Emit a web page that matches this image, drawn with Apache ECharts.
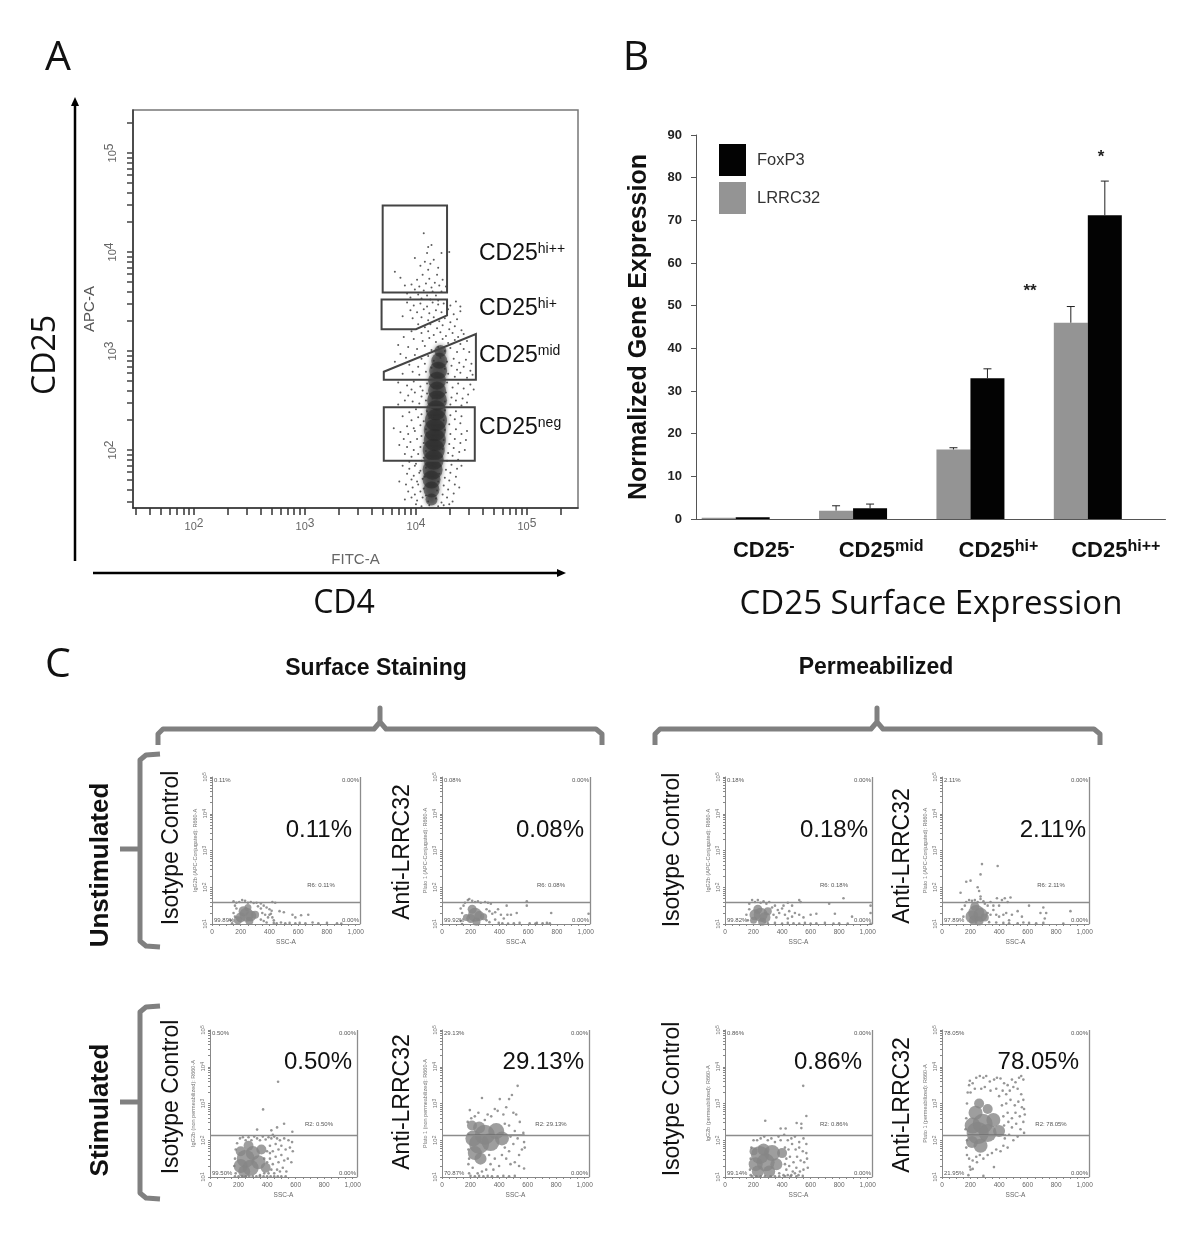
<!DOCTYPE html>
<html><head><meta charset="utf-8">
<style>html,body{margin:0;background:#fff}#c{width:1200px;height:1234px}</style>
<script src="https://cdn.jsdelivr.net/npm/echarts@6/dist/echarts.min.js"></script>
</head><body><div id="c"></div>
<script>
// ---------- Panel B values ----------
const categories=['CD25-','CD25mid','CD25hi+','CD25hi++'];
const lrrc32=[0.3,1.95,16.3,46];
const foxp3=[0.4,2.5,33,71.2];
const lrrc32Top=[null,3.1,16.7,49.8];
const foxp3Top=[null,3.5,35.2,79.2];
// ---------- Panel A: gates and events, in hundredths of a decade (x,y flat) ----------
const gateHiPP=[370,447,428,447,428,359,370,359];
const gateHiP=[369,352,428,352,428,336,400,322,369,322];
const gateMid=[371,279,454,317,454,271,371,271];
const gateNeg=[371,243,453,243,453,189,371,189];
const aCore=[422,300,12,421,290,16,420,280,18,419,270,18,419,260,18,419,250,20,418,240,20,418,230,22,417,220,22,417,210,22,416,200,22,416,190,20,415,180,20,414,170,18,414,160,16,414,150,12];
const aEvents=[407,419,414,407,411,405,423,399,410,399,399,394,381,380,386,374,416,392,408,390,404,386,413,388,420,384,411,382,419,377,406,377,401,372,412,373,424,372,417,369,409,368,396,367,390,366,403,365,414,364,421,366,427,365,399,362,407,361,415,360,423,360,392,358,402,357,410,356,418,356,395,354,405,353,413,352,420,351,430,400,
392,349,398,346,404,348,410,345,415,349,420,347,425,348,431,346,436,350,440,345,395,341,401,339,407,342,412,338,418,341,423,339,429,342,434,337,440,340,388,335,397,333,405,334,411,331,416,334,421,330,426,333,431,329,437,332,
402,327,408,324,413,327,419,323,424,326,430,322,435,325,441,321,396,320,405,318,411,320,416,316,422,319,427,315,433,318,438,314,443,317,389,314,398,312,406,310,412,313,418,309,424,312,429,308,435,311,440,307,446,310,384,306,393,304,401,302,408,305,414,301,420,304,426,300,431,303,437,299,443,302,448,299,
386,297,391,293,399,296,405,292,411,295,416,290,422,293,428,289,434,292,439,288,445,291,450,287,381,289,394,286,402,284,408,287,414,283,420,286,426,282,432,285,437,281,443,284,449,280,397,279,403,276,409,279,414,275,429,277,435,274,440,278,446,273,451,276,388,277,
384,268,392,265,398,269,404,264,410,267,416,263,428,268,433,263,438,267,443,262,449,266,452,261,396,261,406,260,
386,258,393,255,399,258,405,254,410,257,415,252,427,258,432,253,437,257,442,252,447,256,390,250,397,249,403,247,409,250,414,246,426,249,431,246,436,250,441,245,446,248,384,246,
394,238,400,241,405,236,410,239,415,234,426,240,431,235,436,239,441,234,388,234,396,230,402,233,407,229,412,232,425,230,430,226,435,231,440,227,392,224,398,222,404,225,409,221,
380,222,386,218,393,216,399,219,405,214,410,217,426,220,431,216,436,221,441,216,446,219,389,211,395,208,401,211,407,207,425,210,430,206,435,211,440,207,445,210,385,205,392,203,398,200,404,203,409,199,
424,201,429,197,434,202,439,198,444,200,390,196,396,193,402,196,407,192,423,193,428,189,433,194,438,190,394,188,400,186,405,189,410,185,
388,184,394,181,399,184,404,179,409,182,422,184,427,180,432,185,437,181,441,184,392,176,398,174,403,177,408,173,421,176,426,172,431,177,436,173,396,170,401,168,406,171,
385,168,391,165,397,162,402,165,407,161,420,168,425,164,430,169,435,165,439,162,393,158,399,155,404,158,409,154,419,159,424,155,429,160,434,156,
396,152,401,149,406,152,411,148,418,151,423,147,428,152,433,148,390,150,400,145,405,143,412,144,420,143,425,144,430,145,];
// ---------- Panel C events: SSC, hundredths of a decade (x,y flat); cores: x,y,size ----------
const c1Core=[200,118,10,240,125,14,270,122,11,220,135,10,300,125,8,180,110,8,260,108,8,250,145,7];
const c1=[150,162,170,158,190,160,210,165,230,163,250,158,270,160,290,157,310,158,340,156,420,160,440,158,160,150,170,142,150,130,130,110,140,102,160,120,320,148,340,142,360,150,380,145,400,140,410,128,420,118,430,110,350,130,370,125,390,118,340,112,360,108,380,104,400,125,415,136,470,135,500,132,560,125,580,118,620,124,670,125,430,103,450,102,480,104,510,102,540,103,580,102,610,103,650,102,700,104,740,102,800,103,870,102,900,101];
const c2Core=[200,115,9,230,125,14,260,122,10,210,140,9,170,118,7,290,120,7,240,106,8];
const c2=[130,142,140,130,150,150,160,158,180,165,190,168,210,163,230,160,250,162,270,158,300,160,320,158,340,155,310,140,330,135,350,128,370,132,390,140,410,125,430,115,450,150,455,125,480,125,520,130,590,162,590,150,760,130,130,108,140,100,310,110,330,105,370,112,395,103,420,102,460,101,500,102,540,103,610,102,650,101,660,103,700,102,730,103,750,102,1020,128];
const c3Core=[210,125,11,250,125,14,280,118,11,230,140,9,200,110,7,300,135,8,260,106,8];
const c3=[170,155,190,165,210,160,230,165,250,158,270,162,290,155,310,160,150,125,160,110,170,140,330,145,350,150,370,138,340,125,360,118,380,130,400,142,420,125,440,115,410,150,440,158,470,150,520,165,530,160,450,135,470,120,490,130,520,125,550,118,600,125,640,128,730,155,770,128,830,170,890,120,1020,150,1020,130,
300,102,350,103,400,101,440,103,480,102,520,101,560,103,600,101,640,102,700,103,760,101,800,102,860,101,1020,101];
const c4Core=[210,120,13,240,130,16,270,125,14,220,110,9,260,108,9,230,148,9,300,118,8];
const c4=[140,140,130,185,150,120,160,150,170,160,170,215,190,165,200,218,210,163,230,165,250,160,270,168,290,162,250,200,260,190,270,235,280,263,390,258,270,175,300,155,320,150,340,160,360,150,385,170,320,130,340,125,360,138,380,125,400,150,420,165,440,170,460,160,480,172,400,120,430,125,450,130,470,110,490,125,530,135,560,120,610,150,690,130,710,145,720,115,730,130,900,135,
330,105,380,104,430,103,470,102,530,102,570,104,610,103,660,102,710,103,850,101];
const c5Core=[215,130,14,250,150,18,285,125,16,240,115,12,300,165,14,340,140,14,215,170,10,360,175,10,390,125,10,270,185,10];
const c5=[170,130,175,150,180,175,180,110,190,192,210,205,230,208,250,200,270,208,290,200,310,210,330,205,350,200,370,210,390,202,410,208,430,205,450,210,470,205,490,200,520,205,550,200,575,195,400,170,420,185,440,170,460,190,480,175,500,185,530,175,560,180,580,170,420,150,440,135,460,155,480,140,500,160,520,145,545,150,570,140,410,110,430,120,450,110,470,120,490,115,510,125,535,115,420,165,380,150,400,140,350,105,380,110,
477,359,372,284,330,229,430,227,470,235,519,245,577,223,440,215,
175,102,200,102,225,102,250,102,275,102,300,102,325,102,350,102,375,102,400,102,425,102,450,102,475,102,500,102,530,102];
const c6Core=[220,205,16,260,190,20,300,215,20,340,195,18,230,165,14,270,150,12,210,240,10,380,225,16,260,235,12,420,205,14];
const c6=[180,250,185,215,185,175,185,135,190,110,195,282,205,260,230,265,255,275,280,315,300,255,320,270,345,265,370,285,390,280,405,312,430,270,450,290,470,312,490,323,500,275,530,348,520,270,545,250,570,220,575,195,580,180,560,175,540,160,470,240,440,245,480,210,510,225,440,180,470,170,500,190,530,205,540,130,510,140,480,135,450,150,420,160,400,130,370,150,340,135,310,120,280,115,250,110,215,125,190,150,330,160,360,120,
200,103,230,102,260,103,290,102,320,103,350,102,390,102,430,103,470,102,510,103,575,123,];
const c7Core=[215,135,14,245,160,18,285,140,18,230,115,12,270,175,12,330,165,16,310,115,12,200,170,8,360,135,12,400,165,10];
const c7=[175,120,180,150,180,105,185,180,200,200,225,200,250,205,275,210,300,200,325,205,350,195,375,210,390,200,415,215,425,232,440,200,465,205,490,210,520,195,550,205,570,190,548,348,570,266,282,253,502,247,535,245,535,233,390,232,
420,180,445,175,470,190,495,175,520,180,545,170,570,165,430,150,455,155,480,140,505,155,530,145,555,140,575,150,430,120,450,130,475,115,500,125,525,115,550,120,580,125,410,105,440,105,465,105,490,110,515,105,545,103,420,135,380,110,
190,102,220,102,250,102,280,102,320,102,350,102,380,102,420,102,460,102,500,102];
const c8Core=[215,240,16,250,220,22,285,245,20,235,275,14,320,220,18,210,195,12,270,185,14,360,255,14,320,285,10,260,300,10,400,225,12];
const c8=[165,230,170,260,175,200,170,180,175,300,180,330,190,350,195,362,215,355,240,370,265,375,290,370,310,375,335,360,365,365,385,370,410,368,435,355,460,350,490,365,515,358,540,370,555,375,570,365,
200,330,230,340,275,340,300,345,340,335,380,340,400,320,425,335,450,325,475,335,500,345,530,340,555,325,570,310,575,285,
420,295,450,300,480,310,510,295,535,305,560,290,580,270,430,265,460,275,490,260,515,275,545,265,570,250,435,240,465,250,490,235,520,245,550,230,575,220,440,205,470,215,500,200,530,210,430,185,460,180,410,170,380,175,350,165,320,160,290,150,
175,160,190,150,215,145,240,155,265,160,195,128,215,122,245,140,364,127,185,105,290,103,200,120,];
// small-panel texts
const quadrants=[['0.11%','0.00%','R6: 0.11%','99.89%','0.00%'],['0.08%','0.00%','R6: 0.08%','99.92%','0.00%'],['0.18%','0.00%','R6: 0.18%','99.82%','0.00%'],['2.11%','0.00%','R6: 2.11%','97.89%','0.00%'],['0.50%','0.00%','R2: 0.50%','99.50%','0.00%'],['29.13%','0.00%','R2: 29.13%','70.87%','0.00%'],['0.86%','0.00%','R2: 0.86%','99.14%','0.00%'],['78.05%','0.00%','R2: 78.05%','21.95%','0.00%']];
const yNames=['IgG2b (APC-Conjugated): R660-A','Plato 1 (APC-Conjugated): R660-A','IgG2b (APC-Conjugated): R660-A','Plato 1 (APC-Conjugated): R660-A','IgG2b (non permeabilized): R660-A','Plato 1 (non permeabilized): R660-A','IgG2b (permeabilized): R660-A','Plato 1 (permeabilized): R660-A'];
const bigPct=['0.11%','0.08%','0.18%','2.11%','0.50%','29.13%','0.86%','78.05%'];
const rowNames=['Isotype Control','Anti-LRRC32'];
// ---------- layout (not data) ----------
const SANS='"Liberation Sans",Arial,sans-serif',OPEN='"Open Sans",sans-serif';
const panels=[
{d:c1,k:c1Core,x0:212,x1:360,top:777,bot:924,gate:160,px:352,py:830,nx:172,ny:848,n:0},
{d:c2,k:c2Core,x0:442,x1:590,top:777,bot:924,gate:160,px:584,py:830,nx:403,ny:852,n:1},
{d:c3,k:c3Core,x0:725,x1:872,top:777,bot:924,gate:160,px:868,py:830,nx:673,ny:850,n:0},
{d:c4,k:c4Core,x0:942,x1:1089,top:777,bot:924,gate:160,px:1086,py:830,nx:903,ny:856,n:1},
{d:c5,k:c5Core,x0:210,x1:357,top:1030,bot:1177,gate:214,px:352,py:1062,nx:172,ny:1097,n:0},
{d:c6,k:c6Core,x0:442,x1:589,top:1030,bot:1177,gate:214,px:584,py:1062,nx:403,ny:1102,n:1,dark:[180,580]},
{d:c7,k:c7Core,x0:725,x1:872,top:1030,bot:1177,gate:214,px:862,py:1062,nx:673,ny:1099,n:0},
{d:c8,k:c8Core,x0:942,x1:1089,top:1030,bot:1177,gate:214,px:1079,py:1062,nx:903,ny:1105,n:1,dark:[180,450]}];
const pairs=a=>{const r=[];for(let i=0;i+1<a.length;i+=2)r.push([a[i],a[i+1]]);return r};
const triples=a=>{const r=[];for(let i=0;i+2<a.length;i+=3)r.push([a[i],a[i+1],a[i+2]]);return r};
const dec=v=>Math.pow(10,v/100);
function logTicks(lo,hi){const t=[];for(let d=1;d<=5;d++)for(let m=1;m<=9;m++){const v=m*Math.pow(10,d);if(v>=lo&&v<=hi)t.push(v)}return t}
const powLabel=v=>{const e=Math.round(Math.log10(v));return '10{s|'+e+'}'};

const grid=[],xAxis=[],yAxis=[],series=[];
// Panel A
grid.push({left:133,top:110,width:445,height:398,show:true,borderColor:'#777',borderWidth:1.5});
xAxis.push({gridIndex:0,type:'log',min:28.2,max:288400,axisLine:{show:true,lineStyle:{color:'#333',width:1.5}},
 axisTick:{show:true,length:7,inside:false,customValues:logTicks(30,288000),lineStyle:{color:'#333',width:1.5}},splitLine:{show:false},minorTick:{show:false},
 axisLabel:{customValues:[100,1000,10000,100000],margin:10,color:'#666',fontFamily:SANS,fontSize:11,formatter:powLabel,rich:{s:{fontSize:12,color:'#666',verticalAlign:'top',fontFamily:SANS,padding:[0,0,6,0]}}},
 name:'FITC-A',nameLocation:'middle',nameGap:44,nameTextStyle:{color:'#666',fontSize:15,fontFamily:SANS}});
yAxis.push({gridIndex:0,type:'log',min:25.9,max:271600,axisLine:{show:true,lineStyle:{color:'#333',width:1.5}},
 axisTick:{show:true,length:6,customValues:logTicks(30,271000),lineStyle:{color:'#444',width:1.5}},splitLine:{show:false},minorTick:{show:false},
 axisLabel:{customValues:[100,1000,10000,100000],rotate:90,margin:11,color:'#666',fontFamily:SANS,fontSize:11,formatter:powLabel,rich:{s:{fontSize:12,color:'#666',verticalAlign:'top',fontFamily:SANS,padding:[0,0,6,0]}}},
 name:'APC-A',nameLocation:'middle',nameGap:36,nameTextStyle:{color:'#555',fontSize:15,fontFamily:SANS}});
series.push({type:'scatter',name:'coreA',xAxisIndex:0,yAxisIndex:0,silent:true,data:triples(aCore).map(p=>[dec(p[0]),dec(p[1]),p[2]]),symbolSize:v=>v[2],itemStyle:{color:'#2a2a2a',opacity:.55,shadowBlur:4,shadowColor:'#2a2a2a'}});
series.push({type:'scatter',name:'events',xAxisIndex:0,yAxisIndex:0,silent:true,data:pairs(aEvents).map(p=>[dec(p[0]),dec(p[1])]),symbolSize:2,itemStyle:{color:'#333'}});
const gates=[gateHiPP,gateHiP,gateMid,gateNeg];
series.push({type:'custom',name:'gates',xAxisIndex:0,yAxisIndex:0,silent:true,z:5,clip:false,
 data:gates.map((g,i)=>[dec(g[0]),dec(g[1]),i]),
 renderItem:(p,api)=>({type:'polygon',shape:{points:pairs(gates[api.value(2)]).map(q=>api.coord([dec(q[0]),dec(q[1])]))},style:{fill:'none',stroke:'#444',lineWidth:2}})});
// Panel B: visible axes (grid 1), bars on a shifted hidden axis (grid 2)
const catRich={b:{fontSize:22,fontWeight:'bold',color:'#111',fontFamily:SANS},s:{fontSize:16,fontWeight:'bold',color:'#111',fontFamily:SANS,verticalAlign:'top',padding:[0,0,8,0]}};
grid.push({left:696,top:135,width:469.5,height:384});
xAxis.push({gridIndex:1,type:'category',data:categories,axisLine:{lineStyle:{color:'#555',width:1}},axisTick:{length:6,lineStyle:{color:'#555'}},
 axisLabel:{interval:0,margin:20,padding:[0,0,0,18],formatter:v=>'{b|CD25}{s|'+v.slice(4)+'}',rich:catRich}});
yAxis.push({gridIndex:1,type:'value',min:0,max:90,interval:10,splitLine:{show:false},axisLine:{show:true,lineStyle:{color:'#555'}},axisTick:{show:true,length:5,lineStyle:{color:'#555'}},
 axisLabel:{margin:14,color:'#222',fontSize:13,fontWeight:'bold',fontFamily:SANS,padding:[0,0,9,0]},
 name:'Normalized Gene Expression',nameLocation:'middle',nameGap:44,nameTextStyle:{fontSize:25,fontWeight:'bold',color:'#111',fontFamily:SANS}});
grid.push({left:677,top:135,width:469.5,height:384});
xAxis.push({gridIndex:2,type:'category',data:categories,show:false});
yAxis.push({gridIndex:2,type:'value',min:0,max:90,show:false,splitLine:{show:false}});
series.push({type:'bar',name:'LRRC32',xAxisIndex:2,yAxisIndex:2,data:lrrc32,barWidth:34,barGap:0,itemStyle:{color:'#949494'},silent:true});
series.push({type:'bar',name:'FoxP3',xAxisIndex:2,yAxisIndex:2,data:foxp3,barWidth:34,barGap:0,itemStyle:{color:'#030303'},silent:true});
const errData=[];lrrc32Top.forEach((t,i)=>{if(t!=null)errData.push([i,lrrc32[i],t,-1])});foxp3Top.forEach((t,i)=>{if(t!=null)errData.push([i,foxp3[i],t,1])});
series.push({type:'custom',name:'err',xAxisIndex:2,yAxisIndex:2,silent:true,z:4,data:errData,renderItem:(p,api)=>{
 const a=api.coord([api.value(0),api.value(1)]),b=api.coord([api.value(0),api.value(2)]),x=a[0]+api.value(3)*17;
 const st={stroke:'#222',lineWidth:1};
 return {type:'group',children:[{type:'line',shape:{x1:x,y1:a[1],x2:x,y2:b[1]},style:st},{type:'line',shape:{x1:x-4,y1:b[1],x2:x+4,y2:b[1]},style:st}]}}});
// Panel C
const smallRich={s:{fontSize:5,color:'#777',verticalAlign:'top',fontFamily:SANS}};
panels.forEach((P,i)=>{const g=3+i;
 grid.push({left:P.x0,top:P.top,width:P.x1-P.x0,height:P.bot-P.top});
 const ticks=[];for(let t=0;t<=1000;t+=50)ticks.push(t);
 xAxis.push({gridIndex:g,type:'value',min:0,max:1030,splitLine:{show:false},axisLine:{lineStyle:{color:'#888'}},axisTick:{length:2,customValues:ticks,lineStyle:{color:'#888'}},
  axisLabel:{customValues:[0,200,400,600,800,1000],fontSize:6.5,margin:5,color:'#666',fontFamily:SANS},name:'SSC-A',nameLocation:'middle',nameGap:15,nameTextStyle:{fontSize:6.5,color:'#666',fontFamily:SANS}});
 yAxis.push({gridIndex:g,type:'log',min:10,max:100000,splitLine:{show:false},minorTick:{show:false},axisLine:{show:true,lineStyle:{color:'#888'}},axisTick:{show:true,length:2,customValues:logTicks(10,100000),lineStyle:{color:'#888'}},
  axisLabel:{customValues:[10,100,1000,10000,100000],rotate:90,fontSize:6,margin:4,color:'#777',fontFamily:SANS,formatter:powLabel,rich:smallRich},
  name:yNames[i],nameLocation:'middle',nameGap:14,nameTextStyle:{fontSize:5.5,color:'#777',fontFamily:SANS}});
 const lines=[{yAxis:dec(P.gate)},{xAxis:1030}];
 series.push({type:'scatter',name:'core'+i,xAxisIndex:g,yAxisIndex:g,silent:true,data:triples(P.k).map(p=>[p[0],dec(p[1]),p[2]]),symbolSize:v=>v[2],itemStyle:{color:'#868686'}});
 series.push({type:'scatter',name:'events'+i,xAxisIndex:g,yAxisIndex:g,silent:true,data:pairs(P.d).map(p=>[p[0],dec(p[1])]),symbolSize:2.6,itemStyle:{color:'#7c7c7c'},
  markLine:{silent:true,symbol:'none',label:{show:false},animation:false,lineStyle:{color:'#8c8c8c',width:1.3,type:'solid'},data:lines}});
 if(P.dark)series.push({type:'line',name:'gateDark'+i,xAxisIndex:g,yAxisIndex:g,silent:true,symbol:'none',z:3,data:[[P.dark[0],dec(P.gate)],[P.dark[1],dec(P.gate)]],lineStyle:{color:'#555',width:1.3}});
});
// ---------- annotations ----------
const G=[];
const T=(x,y,text,size,o={})=>G.push({type:'text',x,y,rotation:o.rot?Math.PI/2:0,z:10,silent:true,style:{text,fontSize:size,fontFamily:o.font||SANS,fontWeight:o.w||'normal',fill:o.c||'#111',align:o.a||'center',verticalAlign:'middle',textAlign:o.a||'center',textVerticalAlign:'middle',rich:o.rich}});
const L=(pts,w,c)=>G.push({type:'polyline',z:9,silent:true,shape:{points:pts},style:{stroke:c||'#808080',lineWidth:w,fill:'none',lineJoin:'round',lineCap:'butt'}});
const Tri=(pts)=>G.push({type:'polygon',z:9,silent:true,shape:{points:pts},style:{fill:'#000'}});
T(58,58,'A',41,{font:OPEN});T(636,58,'B',41,{font:OPEN});T(58,665,'C',41,{font:OPEN});
L([[75,561],[75,104]],2.5,'#000');Tri([[75,97],[71,106],[79,106]]);
L([[93,573],[558,573]],2.5,'#000');Tri([[566,573],[557,569],[557,577]]);
T(46,355,'CD25',32,{font:OPEN,rot:1});T(344,604,'CD4',32,{font:OPEN});T(931,605,'CD25 Surface Expression',33,{font:OPEN});
const gr={a:{fontSize:23,fill:'#111',color:'#111',fontFamily:SANS},b:{fontSize:14,color:'#111',fontFamily:SANS,verticalAlign:'top',padding:[0,0,7,0]}};
[['hi++',254],['hi+',309],['mid',356],['neg',428]].forEach(r=>T(479,r[1],'{a|CD25}{b|'+r[0]+'}',23,{a:'left',rich:gr}));
T(1030,291,'**',17,{w:'bold',c:'#222'});T(1101,157,'*',17,{w:'bold',c:'#222'});
T(376,669,'Surface Staining',23,{w:'bold'});T(876,668,'Permeabilized',23,{w:'bold'});
L([[158,745],[158,734],[163,729],[374,729],[380,722],[380,708],[380,722],[386,729],[596,729],[602,734],[602,745]],5);
L([[655,745],[655,734],[660,729],[871,729],[877,722],[877,708],[877,722],[883,729],[1094,729],[1100,734],[1100,745]],5);
L([[160,754],[146,755],[140,760],[140,941],[146,946],[160,947]],5);L([[120,849],[140,849]],5);
L([[160,1006],[146,1007],[140,1012],[140,1193],[146,1198],[160,1199]],5);L([[120,1102],[140,1102]],5);
T(101,865,'Unstimulated',26,{w:'bold',rot:1});T(101,1110,'Stimulated',26,{w:'bold',rot:1});
panels.forEach((P,i)=>{
 T(P.nx,P.ny,rowNames[P.n],23,{rot:1});
 T(P.px,P.py,bigPct[i],24,{a:'right'});
 const q=quadrants[i],sm={c:'#555'},row2=P.top>1000;
 T(P.x0+2,P.top+3,q[0],6,{a:'left',c:'#555'});T(P.x1-1,P.top+3,q[1],6,{a:'right',c:'#555'});
 T(P.x0+109,P.top+(row2?94:108),q[2],6,{c:'#555'});
 T(P.x0+2,P.bot-(row2?4:4),q[3],6,{a:'left',c:'#555'});T(P.x1-1,P.bot-4,q[4],6,{a:'right',c:'#555'});
});
const chart=echarts.init(document.getElementById('c'),null,{renderer:'canvas'});
chart.setOption({animation:false,backgroundColor:'#fff',tooltip:{show:false},grid,xAxis,yAxis,series,graphic:G,
 legend:{left:714,top:139,orient:'vertical',itemWidth:27,itemHeight:32,itemGap:6,icon:'rect',data:['FoxP3','LRRC32'],selectedMode:false,textStyle:{fontSize:16.5,color:'#333',fontFamily:SANS,padding:[0,0,0,6]}}});
</script></body></html>
